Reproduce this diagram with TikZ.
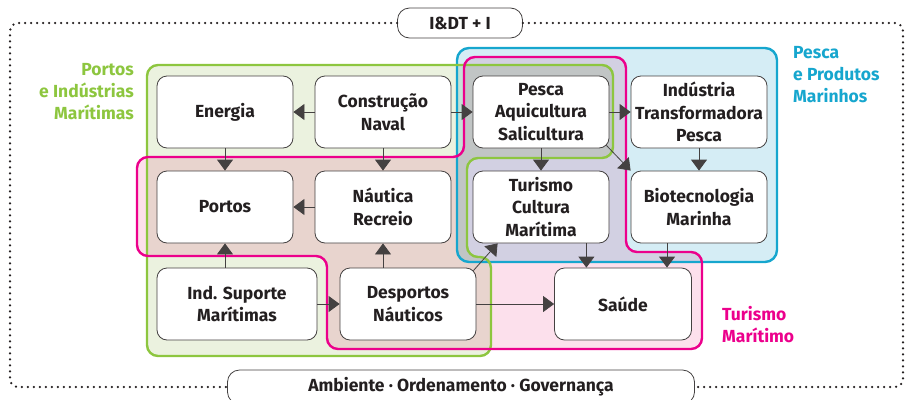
\documentclass[tikz,border=0pt]{standalone}
\usepackage{fontspec}
\setmainfont{Fira Sans}
\usetikzlibrary{arrows.meta}
\definecolor{grn}{HTML}{8DC63F}
\definecolor{pnk}{HTML}{EC008C}
\definecolor{cyn}{HTML}{16A6CE}
\definecolor{grnfill}{HTML}{EBF2DF}
\definecolor{pnkfill}{HTML}{FCE0EC}
\definecolor{cynfill}{HTML}{D5EDF5}
\definecolor{ink}{HTML}{231F20}

\begin{document}
\begin{tikzpicture}[x=1pt,y=-1pt,>={Triangle[length=11pt,width=16pt]},
  box/.style={draw=ink!85,fill=white,rounded corners=10pt,line width=0.8pt,
    minimum width=136pt,minimum height=72pt,inner sep=0pt,align=center,
    text=ink,font=\bfseries\fontsize{17.5}{22.5}\selectfont},
  link/.style={->,draw=ink!85,line width=0.8pt},
  grp/.style={line width=2.4pt,rounded corners=11pt},
  grplabel/.style={font=\bfseries\fontsize{17.5}{22}\selectfont,inner sep=0pt},
  frame/.style={draw=ink,line width=2.5pt,dash pattern=on 0pt off 6pt,line cap=round,rounded corners=8pt}]
  \useasboundingbox (0,0) rectangle (907,399);

  % areas
  \begin{scope}[blend mode=multiply]
    \fill[grnfill,rounded corners=11pt] (147,65) -- (613,65) -- (613,158) -- (467,158) -- (467,257)
      -- (491,257) -- (491,356) -- (147,356) -- cycle;
    \fill[pnkfill,rounded corners=11pt] (137,157) -- (464,157) -- (464,57) -- (626,57) -- (626,252)
      -- (702,252) -- (702,349) -- (327,349) -- (327,256) -- (137,256) -- cycle;
    \fill[cynfill,rounded corners=12pt] (457,48) rectangle (777,262);
  \end{scope}
  \draw[grp,cyn,rounded corners=12pt] (457,48) rectangle (777,262);
  \draw[grp,grn] (147,65) -- (613,65) -- (613,158) -- (467,158) -- (467,257)
      -- (491,257) -- (491,356) -- (147,356) -- cycle;
  \draw[grp,pnk] (137,157) -- (464,157) -- (464,57) -- (626,57) -- (626,252)
      -- (702,252) -- (702,349) -- (327,349) -- (327,256) -- (137,256) -- cycle;

  \node[grplabel,text=grn,align=right,anchor=north east] (lPIM) at (134,63) {Portos\\e Indústrias\\Marítimas};
  \node[grplabel,text=cyn,align=left,anchor=north west] (lPPM) at (793,46) {Pesca\\e Produtos\\Marinhos};
  \node[grplabel,text=pnk,align=left,anchor=north west] (lTM) at (722,306) {Turismo\\Marítimo};

  % boxes
  \node[box] (En) at (225,112) {Energia};
  \node[box] (CN) at (383,112) {Construção\\Naval};
  \node[box] (PA) at (541,112) {Pesca\\Aquicultura\\Salicultura};
  \node[box] (IT) at (699,112) {Indústria\\Transformadora\\Pesca};
  \node[box] (Po) at (225,207) {Portos};
  \node[box] (NR) at (383,207) {Náutica\\Recreio};
  \node[box] (TC) at (541,207) {Turismo\\Cultura\\Marítima};
  \node[box] (BM) at (699,207) {Biotecnologia\\Marinha};
  \node[box,minimum width=160pt] (IS) at (237,304) {Ind. Suporte\\Marítimas};
  \node[box] (DN) at (408,304) {Desportos\\Náuticos};
  \node[box,minimum width=137pt] (Sa) at (623,304) {Saúde};

  \node[box,minimum width=125pt,minimum height=30pt,rounded corners=12pt] (IDT) at (460,23) {I\&DT + I};
  \node[box,minimum width=467pt,minimum height=34pt,rounded corners=12pt] (AOG) at (461,387)
    {Ambiente · Ordenamento · Governança};
  \draw[frame] (IDT.west) -- (10,23) -- (10,387) -- (AOG.west);
  \draw[frame] (IDT.east) -- (903,23) -- (903,387) -- (AOG.east);

  % links
  \coordinate (TCs) at ([xshift=-23pt]TC.south east);
  \coordinate (BMs) at ([xshift=-32pt]BM.south);
  \draw[link] (CN) -- (En);
  \draw[link] (CN) -- (PA);
  \draw[link] (PA) -- (IT);
  \draw[link] (En) -- (Po);
  \draw[link] (CN) -- (NR);
  \draw[link] (NR) -- (Po);
  \draw[link] (IS.north -| Po.south) -- (Po.south);
  \draw[link] (DN.north -| NR.south) -- (NR.south);
  \draw[link] (IS) -- (DN);
  \draw[link] (DN) -- (Sa);
  \draw[link] ([xshift=-3pt,yshift=-3pt]DN.north east) -- ([xshift=25pt]TC.south west);
  \draw[link] (PA) -- (TC);
  \draw[link] ([xshift=-3pt,yshift=3pt]PA.south east) -- (BM.north west);
  \draw[link] (IT) -- (BM);
  \draw[link] (TCs) -- (TCs |- Sa.north);
  \draw[link] (BMs) -- (BMs |- Sa.north);
\end{tikzpicture}
\end{document}
